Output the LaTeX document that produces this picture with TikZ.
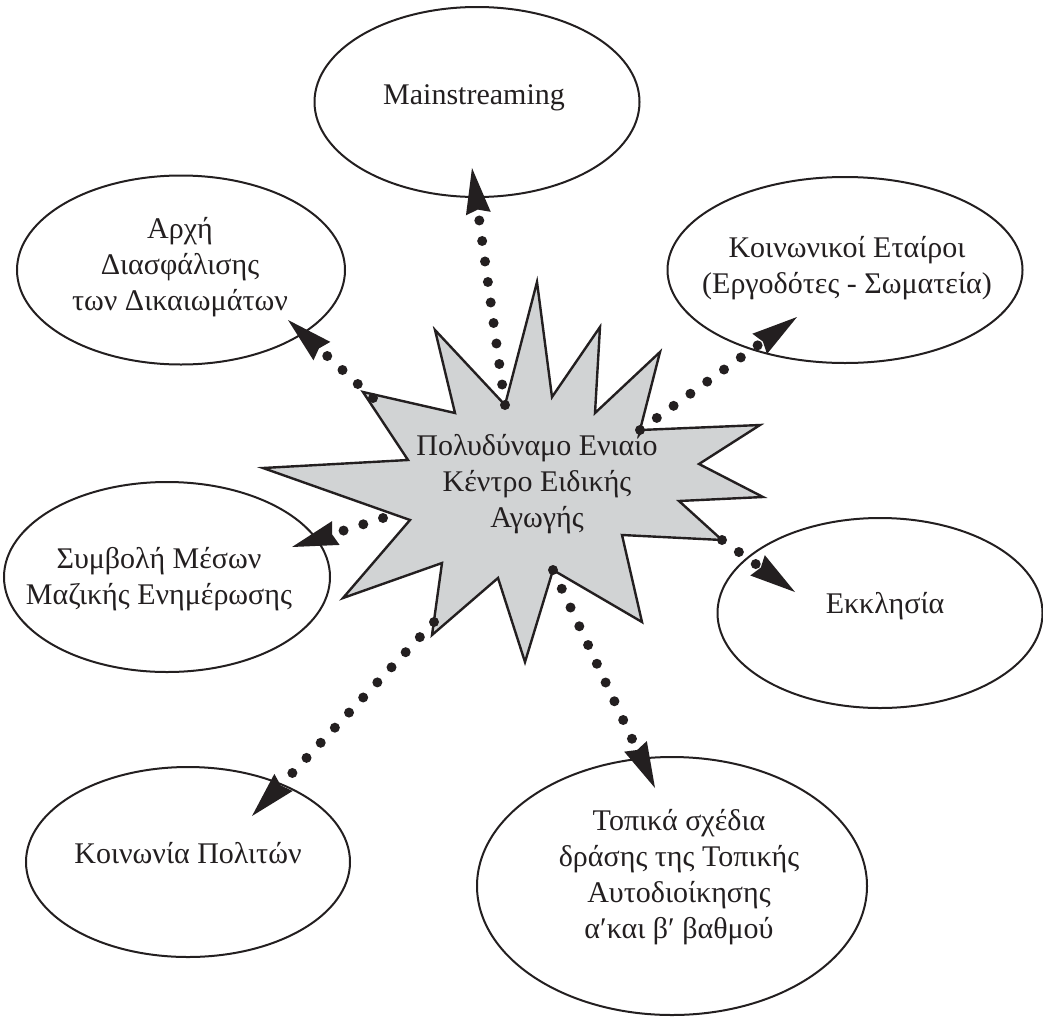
\documentclass[tikz,border=0pt]{standalone}
\usepackage{fontspec}
\setmainfont{Liberation Serif}
\usetikzlibrary{arrows.meta}
\definecolor{ink}{RGB}{35,31,32}
\definecolor{burstgray}{RGB}{209,211,212}
\tikzset{
  rim/.style={draw=ink,line width=1pt},
  caption/.style={inner sep=0pt,align=center,text=ink,font=\fontsize{15}{18}\selectfont},
  burst/.style={draw=ink,fill=burstgray,line width=1.2pt,line join=miter},
  link/.style={draw=ink,line width=5pt,line cap=round,dash pattern=on 0pt off 10.35pt,
    -{Stealth[length=23pt 0,width=12.5pt 0,inset=2pt 0,line width=0pt 0]}}
}

\begin{document}
\begin{tikzpicture}[x=0.5pt,y=-0.5pt]
                \useasboundingbox (0,0) rectangle (1043,1017);
                % outer circle of partners
                \draw[rim] (477,102) ellipse [x radius=162.5,y radius=95];
                \draw[rim] (181,270) ellipse [x radius=164,y radius=94.5];
                \draw[rim] (845,270) ellipse [x radius=177.5,y radius=93];
                \draw[rim] (167,577) ellipse [x radius=163,y radius=95];
                \draw[rim] (880,613) ellipse [x radius=162.5,y radius=95];
                \draw[rim] (188,862) ellipse [x radius=162,y radius=95];
                \draw[rim] (672,886) ellipse [x radius=195,y radius=129];
                \node[caption] (main) at (474,98) {Mainstreaming};
                \node[caption] (arxi) at (180,267) {Αρχή\\Διασφάλισης\\των Δικαιωμάτων};
                \node[caption] (social) at (847,268) {Κοινωνικοί Εταίροι\\(Εργοδότες - Σωματεία)};
                \node[caption] (media) at (159,579) {Συμβολή Μέσων\\Μαζικής Ενημέρωσης};
                \node[caption] (church) at (885,606) {Εκκλησία};
                \node[caption] (civil) at (188,853) {Κοινωνία Πολιτών};
                \node[caption] (local) at (679,877) {Τοπικά σχέδια\\δράσης της Τοπικής\\Αυτοδιοίκησης\\α′και β′ βαθμού};
                % the star
                \foreach \p [count=\i] in {{537,282},{552,397},{600,327},{595,413},{660,352},{640,430},
                    {760,425},{699,464},{763,497},{679,501},{722,540},{622,535},{642,622},{553,570},
                    {525,662},{498,578},{432,635},{442,563},{343,598},{410,520},{263,468},{408,460},
                    {363,392},{455,413},{435,330},{505,405}}
                    \coordinate (v\i) at (\p);
                \draw[burst] (v1) \foreach \i in {2,...,26} {-- (v\i)} -- cycle;
                \node[caption] (centre) at (537,484) {Πολυδύναμο Ενιαίο\\Κέντρο Ειδικής\\Αγωγής};
                % starts off the corners and arrow tips
                \coordinate (sArxi) at (373,398);
                \coordinate (sMedia) at (383,518);
                \coordinate (sCivil) at (434,622);
                \coordinate (tMain) at (472,168);
                \coordinate (tArxi) at (288,320);
                \coordinate (tSocial) at (797,317);
                \coordinate (tMedia) at (292,547);
                \coordinate (tChurch) at (795,592);
                \coordinate (tCivil) at (252,816);
                \coordinate (tLocal) at (655,788);
                \draw[link] (v26) -- (tMain);
                \draw[link] (sArxi) -- (tArxi);
                \draw[link] (v6) -- (tSocial);
                \draw[link] (sMedia) -- (tMedia);
                \draw[link] (v11) -- (tChurch);
                \draw[link] (sCivil) -- (tCivil);
                \draw[link] (v14) -- (tLocal);
            \end{tikzpicture}
\end{document}
